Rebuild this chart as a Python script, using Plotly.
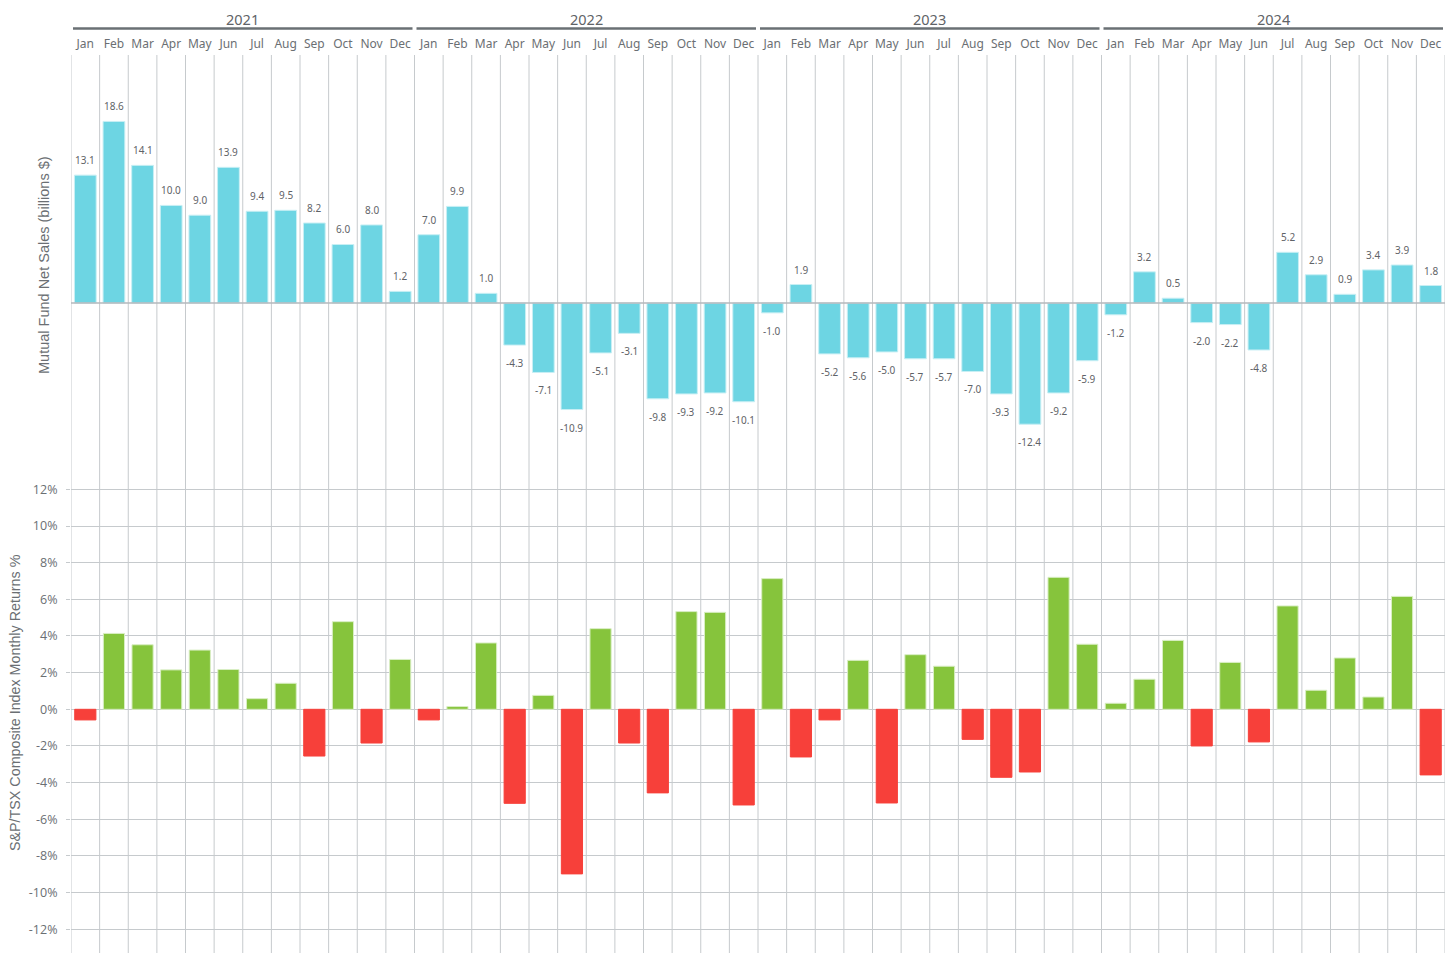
import plotly.graph_objects as go

years = ["2021", "2022", "2023", "2024"]
months = ["Jan", "Feb", "Mar", "Apr", "May", "Jun", "Jul", "Aug", "Sep", "Oct", "Nov", "Dec"]

net_sales_2021 = [13.1, 18.6, 14.1, 10.0, 9.0, 13.9, 9.4, 9.5, 8.2, 6.0, 8.0, 1.2]
net_sales_2022 = [7.0, 9.9, 1.0, -4.3, -7.1, -10.9, -5.1, -3.1, -9.8, -9.3, -9.2, -10.1]
net_sales_2023 = [-1.0, 1.9, -5.2, -5.6, -5.0, -5.7, -5.7, -7.0, -9.3, -12.4, -9.2, -5.9]
net_sales_2024 = [-1.2, 3.2, 0.5, -2.0, -2.2, -4.8, 5.2, 2.9, 0.9, 3.4, 3.9, 1.8]

tsx_2021 = [-0.58, 4.14, 3.52, 2.15, 3.23, 2.17, 0.58, 1.42, -2.55, 4.78, -1.84, 2.72]
tsx_2022 = [-0.58, 0.15, 3.62, -5.13, 0.76, -8.98, 4.40, -1.84, -4.56, 5.33, 5.29, -5.22]
tsx_2023 = [7.13, -2.60, -0.58, 2.67, -5.11, 2.98, 2.35, -1.64, -3.71, -3.42, 7.20, 3.55]
tsx_2024 = [0.33, 1.64, 3.76, -2.00, 2.56, -1.78, 5.64, 1.04, 2.80, 0.67, 6.16, -3.58]

net_sales = net_sales_2021 + net_sales_2022 + net_sales_2023 + net_sales_2024
tsx = tsx_2021 + tsx_2022 + tsx_2023 + tsx_2024
month_labels = months * len(years)
xs = list(range(len(net_sales)))

# the page body has an 8px margin, so the figure is drawn from (8, 8)
OFF = 8
W, H = 1455 - 2 * OFF, 961 - 2 * OFF


def py(px):
    """paper y for a page pixel row"""
    return 1 - (px - OFF) / H


def pxx(px):
    """paper x for a page pixel column"""
    return (px - OFF) / W


CYAN = "#6dd5e3"
GREEN = "#86c43c"
RED = "#f7403a"
GRID = "#c6cacd"
TXT = "#6b6f73"

fig = go.Figure()

fig.add_trace(go.Bar(
    x=xs, y=net_sales, xaxis="x", yaxis="y",
    marker=dict(color=CYAN, line=dict(color="#c8eff4", width=1)),
    width=0.76, hoverinfo="x+y",
))

fig.add_trace(go.Bar(
    x=xs, y=tsx, xaxis="x2", yaxis="y2",
    marker=dict(color=[GREEN if v >= 0 else RED for v in tsx],
                line=dict(color=["#d9eec4" if v >= 0 else RED for v in tsx], width=1)),
    width=0.74, hoverinfo="x+y",
))

shapes = []
# vertical separators between months
for i in range(len(xs) + 1):
    shapes.append(dict(type="line", xref="x", yref="paper", x0=i - 0.5, x1=i - 0.5,
                       y0=0, y1=py(55), line=dict(color=GRID, width=1), layer="below"))
# zero line of top panel
shapes.append(dict(type="line", xref="x", yref="y", x0=-0.5, x1=len(xs) - 0.5,
                   y0=0, y1=0, line=dict(color="#b4b8bc", width=1.5), layer="above"))

annotations = []
# value labels of the net sales bars
for xi, v in zip(xs, net_sales):
    annotations.append(dict(x=xi, y=v, xref="x", yref="y", text=f"{v:.1f}", showarrow=False,
                            xanchor="center", yanchor="middle", yshift=15 if v >= 0 else -18,
                            font=dict(size=10, color="#5f6367", family="Noto Sans")))

for k, yr in enumerate(years):
    shapes.append(dict(type="line", xref="x", yref="paper", x0=12 * k - 0.43, x1=12 * k + 11.43,
                       y0=py(28.5), y1=py(28.5), line=dict(color="#6a7074", width=2.5)))
    annotations.append(dict(x=12 * k + 5.5, y=py(8.2), xref="x", yref="paper", text=yr,
                            showarrow=False, borderpad=0,
                            font=dict(size=14.5, color="#5f6367", family="Noto Sans"),
                            xanchor="center", yanchor="top"))

annotations.append(dict(x=pxx(44), y=py(265), xref="paper", yref="paper",
                        text="Mutual Fund Net Sales (billions $)", textangle=-90, showarrow=False,
                        font=dict(size=14.5, color=TXT, family="Liberation Sans"),
                        xanchor="center", yanchor="middle"))
annotations.append(dict(x=pxx(15), y=py(703), xref="paper", yref="paper",
                        text="S&P/TSX Composite Index Monthly Returns %", textangle=-90, showarrow=False,
                        font=dict(size=14.3, color=TXT, family="Liberation Sans"),
                        xanchor="center", yanchor="middle"))

xdom = [pxx(71), pxx(1445)]
xr = [-0.5, len(xs) - 0.5]

# bottom panel: 0% at page row 709.3, 18.33 px per 1%
bot_px = OFF + H
y2_lo = -(bot_px - 709.3) / 18.33
y2_hi = (709.3 - 475) / 18.33

fig.update_layout(
    width=W, height=H,
    margin=dict(l=0, r=0, t=0, b=0),
    paper_bgcolor="white", plot_bgcolor="rgba(0,0,0,0)",
    showlegend=False, bargap=0.25,
    xaxis=dict(domain=xdom, range=xr, anchor="y", side="top",
               tickmode="array", tickvals=xs, ticktext=month_labels,
               showgrid=False, zeroline=False, showline=False, ticks="",
               tickfont=dict(size=12, color=TXT, family="Noto Sans"), ticklabelstandoff=4),
    yaxis=dict(domain=[py(475), py(55)], range=[-17.6, 25.4], anchor="x",
               showgrid=False, zeroline=False, showticklabels=False, showline=False),
    xaxis2=dict(domain=xdom, range=xr, anchor="y2", showticklabels=False,
                showgrid=False, zeroline=False, showline=False, ticks=""),
    yaxis2=dict(domain=[0, py(475)], range=[y2_lo, y2_hi], anchor="x2",
                tickmode="array", tickvals=list(range(-12, 13, 2)),
                ticktext=[f"{v}%" for v in range(-12, 13, 2)],
                showgrid=True, gridcolor=GRID, gridwidth=1,
                zeroline=True, zerolinecolor=GRID, zerolinewidth=1,
                ticks="outside", ticklen=4, tickcolor=GRID, ticklabelstandoff=6,
                tickfont=dict(size=12.5, color=TXT, family="Open Sans"), showline=False),
    shapes=shapes, annotations=annotations,
)

fig.write_html("out.html")
